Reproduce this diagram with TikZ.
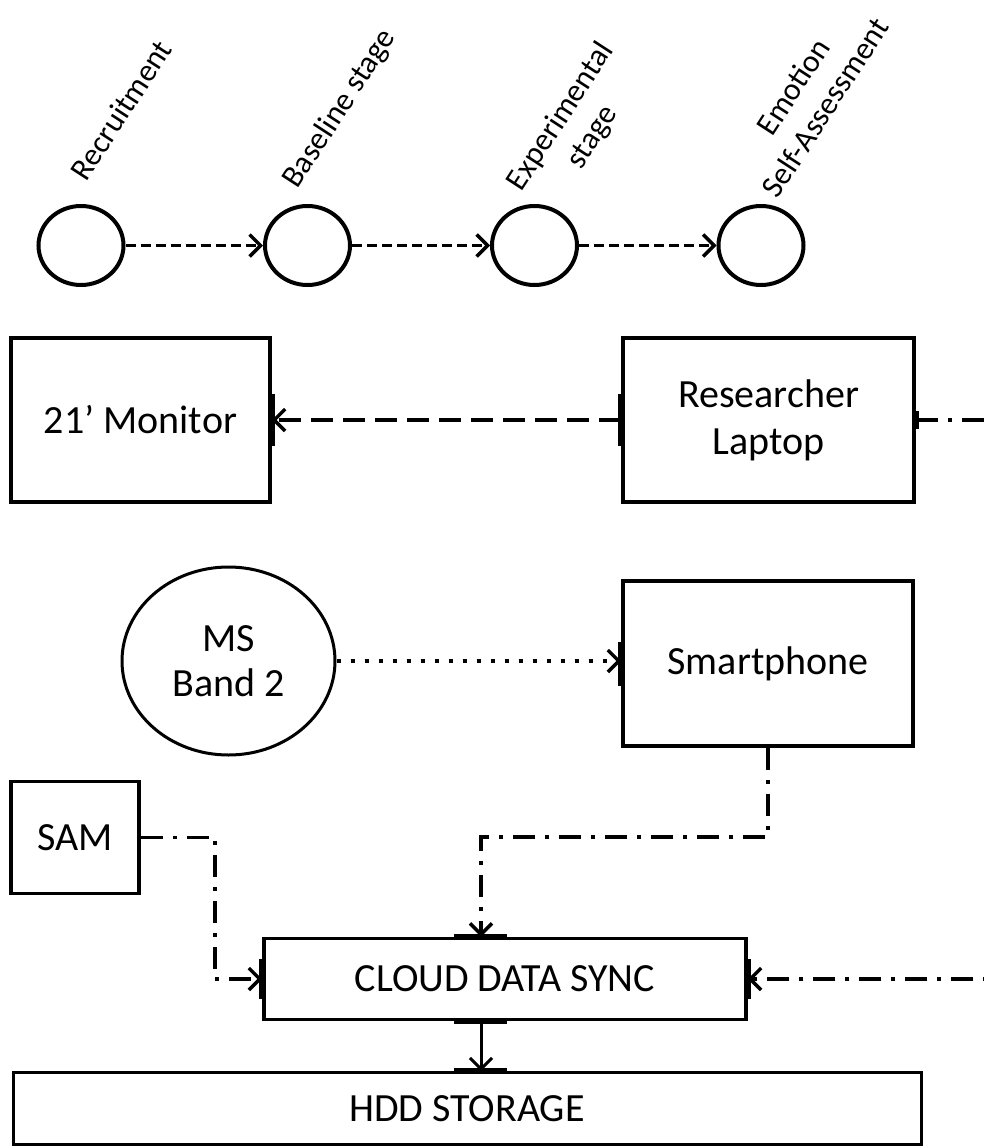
\documentclass[tikz,border=0pt]{standalone}
\usepackage{fontspec}
\setmainfont{Carlito}
\usetikzlibrary{arrows.meta,shapes.geometric}
\begin{document}
\begin{tikzpicture}[x=1pt,y=-1pt,
  box/.style={draw,line width=3.5pt,inner sep=0pt,align=center,
    font=\fontsize{40}{47}\selectfont},
  stage/.style={draw,ellipse,line width=4pt,minimum width=85pt,
    minimum height=79pt,inner sep=0pt},
  stagelabel/.style={rotate=57,align=center,inner sep=0pt,
    font=\fontsize{31.5}{38}\selectfont},
  tip/.style={-{Straight Barb[length=11pt,width=22pt]}},
  stepflow/.style={line width=3.5pt,dash pattern=on 10pt off 5pt,tip},
  display/.style={line width=3.5pt,dash pattern=on 22pt off 10pt,tip},
  wireless/.style={line width=3.5pt,dash pattern=on 4pt off 10pt,tip},
  sync/.style={line width=3.5pt,dash pattern=on 22pt off 10pt on 4pt off 10pt,tip},
  store/.style={line width=3pt,tip},
  port/.style={line width=6pt}
]
\useasboundingbox (0,0) rectangle (984,1146);

% study stages
\node[stage] (s1) at (81,245.5) {};
\node[stage] (s2) at (307.5,245.5) {};
\node[stage] (s3) at (534.5,245.5) {};
\node[stage] (s4) at (761,245.5) {};
\node[stagelabel] (l1) at (121,110) {Recruitment};
\node[stagelabel] (l2) at (340,109) {Baseline stage};
\node[stagelabel] (l3) at (577,127) {Experimental\\stage};
\node[stagelabel] (l4) at (809,97) {Emotion\\Self-Assessment};
\draw[stepflow] (s1) -- (s2);
\draw[stepflow] (s2) -- (s3);
\draw[stepflow] (s3) -- (s4);

% devices
\node[box,minimum width=259pt,minimum height=164pt] (monitor) at (140.5,420) {21’ Monitor};
\node[box,minimum width=291pt,minimum height=164pt] (laptop) at (768.5,420) {Researcher\\Laptop};
\node[draw,ellipse,line width=3pt,minimum width=213pt,minimum height=188pt,
  inner sep=0pt,align=center,font=\fontsize{40}{45}\selectfont] (band) at (228.5,661) {MS\\Band 2};
\node[box,minimum width=290pt,minimum height=165pt] (phone) at (768,663.5) {Smartphone};
\node[box,minimum width=128pt,minimum height=112pt] (sam) at (75,837.5) {SAM};
\node[box,minimum width=482pt,minimum height=81pt] (cloud) at (505,979) {CLOUD DATA SYNC};
\node[box,line width=3pt,minimum width=908pt,minimum height=72pt] (hdd) at (467,1108.5) {HDD STORAGE};

% routing points
\coordinate (bus) at (481,837);
\coordinate (samturn) at (215,837);
\coordinate (rail) at (987,420);

% connection ports on the box edges
\draw[port] ([yshift=26pt]monitor.east) -- ([yshift=-26pt]monitor.east);
\draw[port] ([yshift=26pt]laptop.west) -- ([yshift=-26pt]laptop.west);
\draw[port] ([yshift=9pt]laptop.east) -- ([yshift=-9pt]laptop.east);
\draw[port] ([yshift=22pt]phone.west) -- ([yshift=-22pt]phone.west);
\draw[port] ([yshift=20pt]cloud.west) -- ([yshift=-20pt]cloud.west);
\draw[port] ([yshift=20pt]cloud.east) -- ([yshift=-20pt]cloud.east);
\draw[port] ([xshift=-27pt]bus |- cloud.north) -- ([xshift=26pt]bus |- cloud.north);
\draw[port] ([xshift=-27pt]bus |- cloud.south) -- ([xshift=26pt]bus |- cloud.south);
\draw[port] ([xshift=-27pt]bus |- hdd.north) -- ([xshift=26pt]bus |- hdd.north);

% connections
\draw[display] (laptop.west) -- (monitor.east);
\draw[wireless] (band.east) -- (band.east -| phone.west);
\draw[sync] (sam.east) -| (samturn |- cloud.west) -- (cloud.west);
\draw[sync] (phone.south) |- (bus) -- (bus |- cloud.north);
\draw[sync] (laptop.east) -| (rail |- cloud.east) -- (cloud.east);
\draw[store] (bus |- cloud.south) -- (bus |- hdd.north);
\end{tikzpicture}
\end{document}
